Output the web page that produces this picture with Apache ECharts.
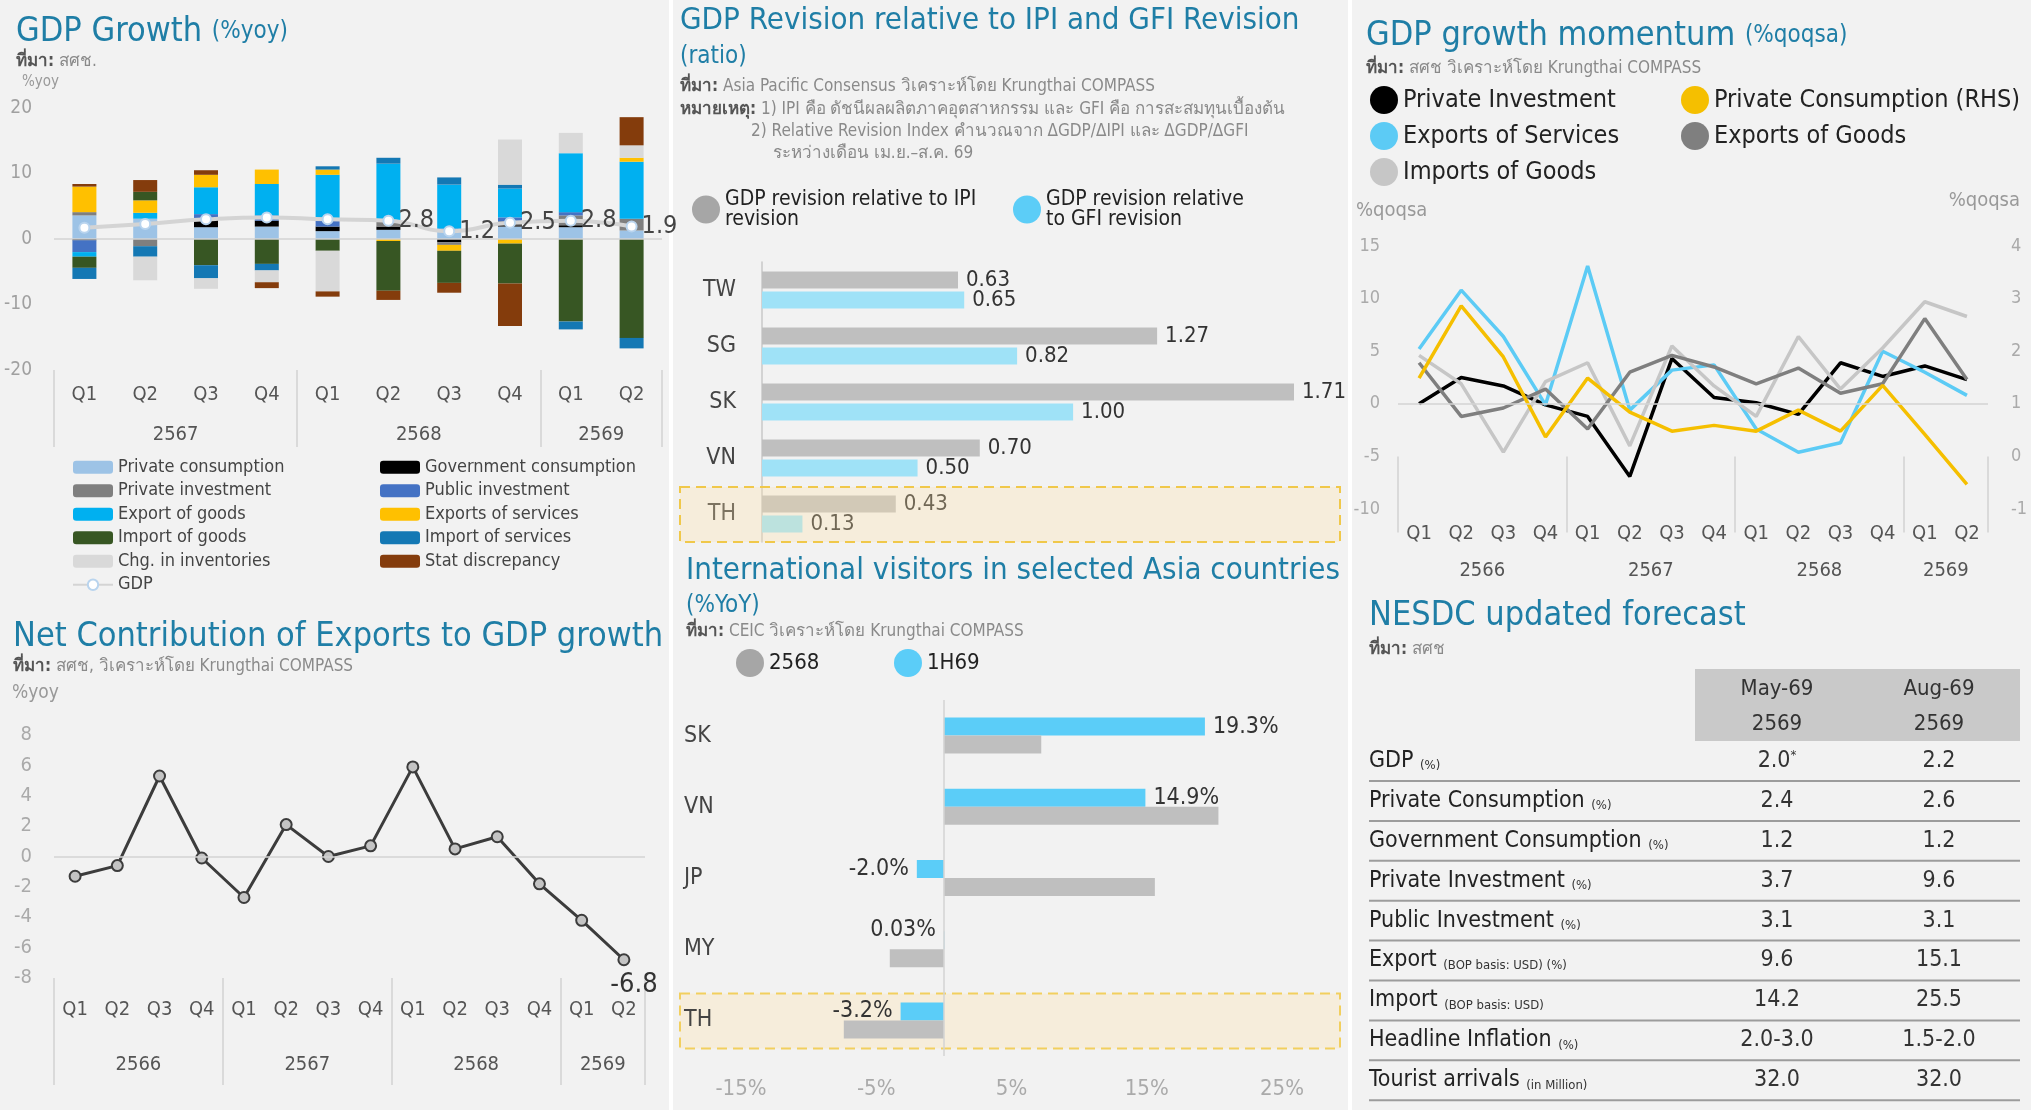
<!DOCTYPE html>
<html>
<head>
<meta charset="utf-8">
<script src="https://cdn.jsdelivr.net/npm/echarts@6/dist/echarts.min.js"></script>
<style>
html,body{margin:0;padding:0;background:#f2f2f2;}
#main{width:2031px;height:1110px;}
</style>
</head>
<body>
<div id="main"></div>
<script>
var FONT = "'Liberation Sans Narrow','DejaVu Sans Condensed','Noto Sans',sans-serif"
var TITLE = '#1f7ea6'

// GDP growth, contribution to %yoy
var gdpQuarters = ['Q1', 'Q2', 'Q3', 'Q4', 'Q1', 'Q2', 'Q3', 'Q4', 'Q1', 'Q2']
var gdpYears = ['2567', '2568', '2569']
var gdpYearSpans = [4, 4, 2]
var privCons = [3.6, 3.1, 1.8, 1.9, 1.2, 1.4, 1.3, 1.9, 1.8, 1.3]
var govCons = [-0.2, 0, 1.1, 0.9, 0.7, 0.5, -0.5, 0.2, 0.3, 0]
var privInv = [0.5, -1.1, 0, 0, 0, 0.7, -0.4, 0.6, 1.5, 1.8]
var pubInv = [-1.8, 0, 0.9, 0.8, 0.9, 0.2, 0.3, 0.6, 0.5, 0]
var expGoods = [-0.7, 0.9, 4.1, 4.8, 7.0, 8.7, 6.7, 4.4, 9.0, 8.7]
var expServ = [3.9, 1.9, 1.9, 2.2, 0.8, -0.3, -0.9, -0.7, 0, 0.6]
var impGoods = [-1.7, 1.3, -4.0, -3.8, -1.8, -7.6, -4.9, -6.1, -12.6, -15.1]
var impServ = [-1.7, -1.6, -2.0, -1.0, 0.5, 0.9, 1.1, 0.6, -1.2, -1.6]
var inventories = [0, -3.6, -1.6, -1.8, -6.2, 0, 0, 6.9, 3.1, 1.9]
var statDisc = [0.4, 1.8, 0.7, -0.9, -0.8, -1.4, -1.5, -6.5, 0, 4.3]
var gdpYoy = [1.7, 2.3, 3.0, 3.3, 3.0, 2.8, 1.2, 2.5, 2.8, 1.9]

// GDP revision ratio
var revCountries = ['TW', 'SG', 'SK', 'VN', 'TH']
var revIPI = [0.63, 1.27, 1.71, 0.70, 0.43]
var revGFI = [0.65, 0.82, 1.00, 0.50, 0.13]

// GDP growth momentum %qoqsa
var momQuarters = ['Q1', 'Q2', 'Q3', 'Q4', 'Q1', 'Q2', 'Q3', 'Q4', 'Q1', 'Q2', 'Q3', 'Q4', 'Q1', 'Q2']
var momYears = ['2566', '2567', '2568', '2569']
var momYearSpans = [4, 4, 4, 2]
var momPrivInv = [0.0, 2.5, 1.7, -0.1, -1.2, -6.9, 4.3, 0.6, 0.1, -1.0, 3.9, 2.6, 3.6, 2.3]
var momExpServ = [5.2, 10.8, 6.4, -0.1, 13.1, -0.6, 3.2, 3.7, -2.4, -4.6, -3.7, 5.0, 3.0, 0.8]
var momImpGoods = [4.6, 1.9, -4.6, 2.1, 3.9, -4.0, 5.5, 1.7, -1.2, 6.4, 1.4, 5.3, 9.7, 8.3]
var momExpGoods = [3.9, -1.2, -0.4, 1.4, -2.4, 3.0, 4.6, 3.5, 1.9, 3.4, 1.0, 1.9, 8.1, 2.3]
var momPrivCons = [1.49, 2.86, 1.89, 0.37, 1.49, 0.84, 0.48, 0.59, 0.48, 0.88, 0.48, 1.35, 0.42, -0.53]

// net contribution of exports %yoy
var netExport = [-1.3, -0.6, 5.3, -0.1, -2.7, 2.1, 0.0, 0.7, 5.9, 0.5, 1.3, -1.8, -4.2, -6.8]

// international visitors %YoY
var visCountries = ['SK', 'VN', 'JP', 'MY', 'TH']
var vis2568 = [7.2, 20.3, 15.6, -4.0, -7.4]
var vis1H69 = [19.3, 14.9, -2.0, 0.03, -3.2]
var visTicks = [-15, -5, 5, 15, 25]

// NESDC forecast table
var fcHeader = [['May-69', '2569'], ['Aug-69', '2569']]
var fcItems = ['GDP', 'Private Consumption', 'Government Consumption', 'Private Investment', 'Public Investment', 'Export', 'Import', 'Headline Inflation', 'Tourist arrivals']
var fcUnits = ['(%)', '(%)', '(%)', '(%)', '(%)', '(BOP basis: USD) (%)', '(BOP basis: USD)', '(%)', '(in Million)']
var fcMay = ['2.0*', '2.4', '1.2', '3.7', '3.1', '9.6', '14.2', '2.0-3.0', '32.0']
var fcAug = ['2.2', '2.6', '1.2', '9.6', '3.1', '15.1', '25.5', '1.5-2.0', '32.0']

var stackNames = ['Private consumption', 'Government consumption', 'Private investment', 'Public investment',
  'Export of goods', 'Exports of services', 'Import of goods', 'Import of services', 'Chg. in inventories', 'Stat discrepancy']
var stackData = [privCons, govCons, privInv, pubInv, expGoods, expServ, impGoods, impServ, inventories, statDisc]
var stackColors = ['#9dc3e6', '#000000', '#7f7f7f', '#4472c4', '#00b0f0', '#ffc000', '#375623', '#1478b4', '#d9d9d9', '#843c0c']

var REV1 = 'GDP revision relative to IPI revision'
var REV2 = 'GDP revision relative to GFI revision'

var myChart = echarts.init(document.getElementById('main'))

function quarterAxis(gi, data, margin) {
  return {
    type: 'category', gridIndex: gi, position: 'bottom', data: data,
    axisLine: { show: false }, axisTick: { show: false },
    axisLabel: { margin: margin, fontSize: 20, color: '#555', fontFamily: FONT }
  }
}

// second x axis that only carries the year labels and the separators
function yearAxis(gi, years, spans, margin, tickLen) {
  var bounds = [0]
  spans.forEach(function (s) { bounds.push(bounds[bounds.length - 1] + s) })
  var centers = spans.map(function (s, i) { return bounds[i] + s / 2 })
  return {
    type: 'value', gridIndex: gi, position: 'bottom', min: 0, max: bounds[bounds.length - 1],
    axisLine: { show: false }, splitLine: { show: false },
    axisTick: { show: true, customValues: bounds, length: tickLen, lineStyle: { color: '#d2d2d2', width: 1.5 } },
    axisLabel: {
      customValues: centers, margin: margin, fontSize: 20, color: '#555', fontFamily: FONT,
      formatter: function (v) { return years[centers.indexOf(v)] }
    }
  }
}

var zeroLine = function (axis) {
  var d = {}
  d[axis] = 0
  return { silent: true, symbol: 'none', label: { show: false }, lineStyle: { color: '#d3d3d3', width: 1.5, type: 'solid' }, data: [d] }
}

var series = stackNames.map(function (name, i) {
  var s = {
    name: name, type: 'bar', stack: 'gdp', xAxisIndex: 0, yAxisIndex: 0, barWidth: 24,
    data: stackData[i], itemStyle: { color: stackColors[i] }
  }
  if (i === 0) s.markLine = zeroLine('yAxis')
  return s
})

series.push({
  name: 'GDP', type: 'line', xAxisIndex: 0, yAxisIndex: 0, smooth: true, z: 5,
  data: gdpYoy.map(function (v, i) { return i >= 5 ? { value: v, label: { show: true } } : v }),
  symbol: 'circle', symbolSize: 10,
  lineStyle: { color: '#d4d4d4', width: 4 },
  itemStyle: { color: '#ffffff', borderColor: '#b9d4ee', borderWidth: 2 },
  label: { show: false, position: 'right', distance: 4, fontSize: 25, color: '#444', fontFamily: FONT }
})

// revision bars
series.push({
  name: REV1, type: 'bar', xAxisIndex: 2, yAxisIndex: 1, data: revIPI, barWidth: 17, barGap: '18%',
  itemStyle: { color: '#bfbfbf' },
  label: { show: true, position: 'right', distance: 8, fontSize: 22, color: '#333', fontFamily: FONT, formatter: function (p) { return p.value.toFixed(2) } }
})
series.push({
  name: REV2, type: 'bar', xAxisIndex: 2, yAxisIndex: 1, data: revGFI, barWidth: 17, barGap: '18%',
  itemStyle: { color: '#9fe2f7' },
  label: { show: true, position: 'right', distance: 8, fontSize: 22, color: '#333', fontFamily: FONT, formatter: function (p) { return p.value.toFixed(2) } }
})

// momentum lines
var momDefs = [
  ['Private Investment', momPrivInv, '#000000', 2],
  ['Exports of Services', momExpServ, '#5ccbf5', 2],
  ['Imports of Goods', momImpGoods, '#c6c6c6', 2],
  ['Exports of Goods', momExpGoods, '#7f7f7f', 2],
  ['Private Consumption (RHS)', momPrivCons, '#f5bf00', 3]
]
momDefs.forEach(function (d, i) {
  var s = {
    name: d[0], type: 'line', xAxisIndex: 3, yAxisIndex: d[3], data: d[1],
    symbol: 'none', lineStyle: { color: d[2], width: 3.5 }, itemStyle: { color: d[2] }
  }
  if (i === 0) s.markLine = zeroLine('yAxis')
  series.push(s)
})

// net contribution line
series.push({
  name: 'Net export', type: 'line', xAxisIndex: 5, yAxisIndex: 4,
  data: netExport.map(function (v, i) {
    return i === netExport.length - 1 ? { value: v, label: { show: true } } : v
  }),
  symbol: 'circle', symbolSize: 11,
  lineStyle: { color: '#3c3c3c', width: 3 },
  itemStyle: { color: '#c4c4c4', borderColor: '#3c3c3c', borderWidth: 2 },
  label: { show: false, position: 'bottom', offset: [10, 0], fontSize: 27, color: '#333', fontFamily: FONT },
  markLine: zeroLine('yAxis')
})

// visitors bars
var pctFmt = function (p) { return (Math.abs(p.value) < 0.1 ? p.value.toFixed(2) : p.value.toFixed(1)) + '%' }
series.push({
  name: '1H69', type: 'bar', xAxisIndex: 7, yAxisIndex: 5, barWidth: 18, barGap: '0%',
  data: vis1H69.map(function (v) {
    if (v >= 0 && v < 0.1) return { value: v, label: { position: 'left', offset: [0, -10] } }
    return { value: v, label: { position: v < 0 ? 'left' : 'right' } }
  }),
  itemStyle: { color: '#5bcdf8' },
  label: { show: true, distance: 8, fontSize: 23, color: '#333', fontFamily: FONT, formatter: pctFmt },
  markLine: zeroLine('xAxis')
})
series.push({
  name: '2568', type: 'bar', xAxisIndex: 7, yAxisIndex: 5, barWidth: 18, barGap: '0%',
  data: vis2568, itemStyle: { color: '#bfbfbf' }
})

var legendText = { fontFamily: FONT, color: '#444' }
var option = {
  backgroundColor: '#f2f2f2',
  animation: false,
  textStyle: { fontFamily: FONT },
  grid: [
    { left: 54, top: 108, width: 608, height: 262 },
    { left: 762, top: 262, width: 560, height: 280 },
    { left: 1398, top: 246, width: 590, height: 263 },
    { left: 54, top: 735, width: 591, height: 243 },
    { left: 741, top: 700, width: 541, height: 356 }
  ],
  xAxis: [
    quarterAxis(0, gdpQuarters, 15),
    yearAxis(0, gdpYears, gdpYearSpans, 55, 77),
    { type: 'value', gridIndex: 1, min: 0, max: 1.8, show: false },
    quarterAxis(2, momQuarters, 15),
    yearAxis(2, momYears, momYearSpans, 52, 76),
    quarterAxis(3, momQuarters, 22),
    yearAxis(3, momYears, momYearSpans, 77, 107),
    {
      type: 'value', gridIndex: 4, min: -15, max: 25,
      axisLine: { show: false }, axisTick: { show: false }, splitLine: { show: false },
      axisLabel: { customValues: visTicks, margin: 22, fontSize: 22, color: '#aaa', fontFamily: FONT, formatter: '{value}%' }
    }
  ],
  yAxis: [
    {
      type: 'value', gridIndex: 0, min: -20, max: 20, interval: 10,
      axisLine: { show: false }, axisTick: { show: false }, splitLine: { show: false },
      axisLabel: { margin: 22, fontSize: 19, color: '#a0a0a0', fontFamily: FONT }
    },
    {
      type: 'category', gridIndex: 1, inverse: true, data: revCountries,
      axisLine: { show: true, lineStyle: { color: '#c8c8c8', width: 1.5 } }, axisTick: { show: false },
      axisLabel: { margin: 26, fontSize: 23, color: '#444', fontFamily: FONT }
    },
    {
      type: 'value', gridIndex: 2, position: 'left', min: -10, max: 15, interval: 5,
      axisLine: { show: false }, axisTick: { show: false }, splitLine: { show: false },
      axisLabel: { margin: 18, fontSize: 18, color: '#aaa', fontFamily: FONT }
    },
    {
      type: 'value', gridIndex: 2, position: 'right', min: -1, max: 4, interval: 1,
      axisLine: { show: false }, axisTick: { show: false }, splitLine: { show: false },
      axisLabel: { margin: 23, fontSize: 18, color: '#aaa', fontFamily: FONT }
    },
    {
      type: 'value', gridIndex: 3, min: -8, max: 8, interval: 2,
      axisLine: { show: false }, axisTick: { show: false }, splitLine: { show: false },
      axisLabel: { margin: 22, fontSize: 20, color: '#aaa', fontFamily: FONT }
    },
    {
      type: 'category', gridIndex: 4, inverse: true, data: visCountries,
      axisLine: { show: false }, axisTick: { show: false },
      axisLabel: { align: 'left', margin: 57, fontSize: 23, color: '#444', fontFamily: FONT }
    }
  ],
  legend: [
    {
      left: 67, top: 453, orient: 'vertical', itemWidth: 40, itemHeight: 13, itemGap: 5,
      textStyle: Object.assign({ fontSize: 18, lineHeight: 18.5 }, legendText),
      data: ['Private consumption', 'Private investment', 'Export of goods', 'Import of goods', 'Chg. in inventories', 'GDP']
    },
    {
      left: 375, top: 453, orient: 'vertical', itemWidth: 40, itemHeight: 13, itemGap: 5,
      textStyle: Object.assign({ fontSize: 18, lineHeight: 18.5 }, legendText),
      data: ['Government consumption', 'Public investment', 'Exports of services', 'Import of services', 'Stat discrepancy']
    },
    {
      left: 687, top: 184, icon: 'circle', itemWidth: 28, itemHeight: 28,
      textStyle: { fontFamily: FONT, color: '#222', fontSize: 21, lineHeight: 20 },
      formatter: function () { return 'GDP revision relative to IPI\nrevision' },
      data: [{ name: REV1, itemStyle: { color: '#a6a6a6' } }]
    },
    {
      left: 1008, top: 184, icon: 'circle', itemWidth: 28, itemHeight: 28,
      textStyle: { fontFamily: FONT, color: '#222', fontSize: 21, lineHeight: 20 },
      formatter: function () { return 'GDP revision relative\nto GFI revision' },
      data: [{ name: REV2, itemStyle: { color: '#5ccdf7' } }]
    },
    {
      left: 1365, top: 81, orient: 'vertical', icon: 'circle', itemWidth: 28, itemHeight: 28, itemGap: 8,
      textStyle: { fontFamily: FONT, color: '#222', fontSize: 25 },
      data: ['Private Investment', 'Exports of Services', 'Imports of Goods']
    },
    {
      left: 1676, top: 81, orient: 'vertical', icon: 'circle', itemWidth: 28, itemHeight: 28, itemGap: 8,
      textStyle: { fontFamily: FONT, color: '#222', fontSize: 25 },
      data: ['Private Consumption (RHS)', 'Exports of Goods']
    },
    {
      left: 731, top: 644, icon: 'circle', itemWidth: 28, itemHeight: 28,
      textStyle: { fontFamily: FONT, color: '#222', fontSize: 22 },
      data: [{ name: '2568', itemStyle: { color: '#a6a6a6' } }]
    },
    {
      left: 889, top: 644, icon: 'circle', itemWidth: 28, itemHeight: 28,
      textStyle: { fontFamily: FONT, color: '#222', fontSize: 22 },
      data: ['1H69']
    }
  ],
  series: series
}
myChart.setOption(option)

// ---- texts, table and highlight boxes ----
function txt(x, y, text, size, color, extra) {
  return {
    type: 'text', x: x, y: y, silent: true, z: 50,
    style: Object.assign({ text: text, fontSize: size, fontFamily: FONT, fill: color, verticalAlign: 'middle', align: 'left' }, extra || {})
  }
}
function titleTxt(x, y, main, sub, size) {
  size = size || 34
  return txt(x, y, '{t|' + main + '}' + (sub ? ' {s|' + sub + '}' : ''), size, TITLE, {
    rich: {
      t: { fontSize: size, fontFamily: FONT, fill: TITLE },
      s: { fontSize: 24, fontFamily: FONT, fill: TITLE }
    }
  })
}
function noteTxt(x, y, head, rest) {
  return txt(x, y, (head ? '{b|' + head + '}' : '') + '{r|' + rest + '}', 17, '#888', {
    rich: {
      b: { fontSize: 17, fontFamily: FONT, fill: '#555', fontWeight: 'bold' },
      r: { fontSize: 17, fontFamily: FONT, fill: '#8a8a8a' }
    }
  })
}

var els = []
els.push({ type: 'rect', shape: { x: 669, y: 0, width: 4, height: 1110 }, style: { fill: '#ffffff' }, silent: true })
els.push({ type: 'rect', shape: { x: 1348, y: 0, width: 4, height: 1110 }, style: { fill: '#ffffff' }, silent: true })

els.push(titleTxt(16, 32, 'GDP Growth', '(%yoy)'))
els.push(noteTxt(16, 62, 'ที่มา:', ' สศช.'))
els.push(txt(22, 82, '%yoy', 15, '#999'))

els.push(titleTxt(680, 21, 'GDP Revision relative to IPI and GFI Revision', null, 31))
els.push(txt(680, 57, '(ratio)', 24, TITLE))
els.push(noteTxt(680, 87, 'ที่มา:', ' Asia Pacific Consensus วิเคราะห์โดย Krungthai COMPASS'))
els.push(noteTxt(680, 110, 'หมายเหตุ:', ' 1) IPI คือ ดัชนีผลผลิตภาคอุตสาหกรรม และ GFI คือ การสะสมทุนเบื้องต้น'))
els.push(noteTxt(751, 132, '', '2) Relative Revision Index คำนวณจาก ΔGDP/ΔIPI และ ΔGDP/ΔGFI'))
els.push(noteTxt(773, 154, '', 'ระหว่างเดือน เม.ย.–ส.ค. 69'))

els.push(titleTxt(1366, 36, 'GDP growth momentum', '(%qoqsa)'))
els.push(noteTxt(1366, 69, 'ที่มา:', ' สศช วิเคราะห์โดย Krungthai COMPASS'))
els.push(txt(1356, 211, '%qoqsa', 20, '#999'))
els.push(txt(2020, 201, '%qoqsa', 20, '#999', { align: 'right' }))

els.push(titleTxt(13, 637, 'Net Contribution of Exports to GDP growth'))
els.push(noteTxt(13, 667, 'ที่มา:', ' สศช, วิเคราะห์โดย Krungthai COMPASS'))
els.push(txt(12, 693, '%yoy', 19, '#999'))

els.push(titleTxt(686, 571, 'International visitors in selected Asia countries', null, 31))
els.push(txt(686, 606, '(%YoY)', 24, TITLE))
els.push(noteTxt(686, 632, 'ที่มา:', ' CEIC วิเคราะห์โดย Krungthai COMPASS'))

els.push(titleTxt(1369, 616, 'NESDC updated forecast'))
els.push(noteTxt(1369, 650, 'ที่มา:', ' สศช'))

// forecast table
var colX = [1777, 1939]
els.push({ type: 'rect', shape: { x: 1695, y: 669, width: 325, height: 72 }, style: { fill: '#c9c9c9' }, silent: true })
fcHeader.forEach(function (h, c) {
  els.push(txt(colX[c], 689, h[0], 22, '#333', { align: 'center' }))
  els.push(txt(colX[c], 724, h[1], 22, '#333', { align: 'center' }))
})
fcItems.forEach(function (item, i) {
  var y = 761 + i * 39.9
  els.push(txt(1369, y, '{l|' + item + '} {u|' + fcUnits[i] + '}', 23, '#222', {
    rich: {
      l: { fontSize: 23, fontFamily: FONT, fill: '#222' },
      u: { fontSize: 13, fontFamily: FONT, fill: '#333', verticalAlign: 'bottom' }
    }
  }))
  var may = fcMay[i]
  var mayTxt = may.indexOf('*') >= 0 ? '{n|' + may.replace('*', '') + '}{a|*}' : '{n|' + may + '}'
  els.push(txt(colX[0], y, mayTxt, 23, '#333', {
    align: 'center',
    rich: {
      n: { fontSize: 23, fontFamily: FONT, fill: '#333' },
      a: { fontSize: 13, fontFamily: FONT, fill: '#333', verticalAlign: 'top' }
    }
  }))
  els.push(txt(colX[1], y, fcAug[i], 23, '#333', { align: 'center' }))
  els.push({ type: 'line', silent: true, shape: { x1: 1369, y1: y + 20, x2: 2020, y2: y + 20 }, style: { stroke: '#9c9c9c', lineWidth: 2 } })
})

// highlight boxes for TH rows: a tint over the revision bars, a band under the visitor bars
var thRev = myChart.convertToPixel({ yAxisIndex: 1 }, 'TH')
var thVis = myChart.convertToPixel({ yAxisIndex: 5 }, 'TH')
els.push({
  type: 'rect', silent: true, z: 100,
  shape: { x: 680, y: thRev - 27, width: 660, height: 55 },
  style: { fill: 'rgba(255,225,165,0.3)', stroke: '#f0c84a', lineWidth: 2, lineDash: [10, 6] }
})
els.push({
  type: 'rect', silent: true, z: 0,
  shape: { x: 680, y: thVis - 27, width: 660, height: 55 },
  style: { fill: '#f6eddb', stroke: '#f2cf5e', lineWidth: 2, lineDash: [10, 6] }
})

myChart.setOption({ graphic: els })
</script>
</body>
</html>
